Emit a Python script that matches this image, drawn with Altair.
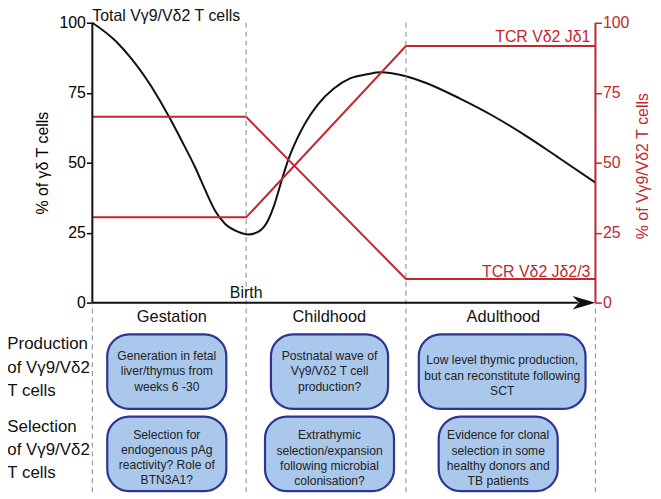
import altair as alt
import pandas as pd

FONT = "Liberation Sans"
RED = "#c1272d"
BOX_FILL = "#aac7ec"
BOX_STROKE = "#2d3590"

# ---------------- data ----------------
# relative time axis: 0 = start of gestation, 100 = late adulthood
curve_x = [0, 4.73, 7.89, 13.21, 15.19, 17.81, 20.45, 22.43, 24.40, 26.37,
           28.99, 30.97, 32.94, 34.91, 36.23, 37.22, 38.21, 39.19, 40.18,
           42.15, 44.77, 48.07, 51.34, 54.64, 57.2, 62.33, 66.47, 72.98,
           79.68, 86.19, 92.7, 100]
curve_y = [100, 93.3, 86.9, 72.9, 66.6, 57.7, 48.3, 40.3, 32.9, 28.2,
           25.3, 24.4, 25.3, 29.4, 35.3, 41.2, 47.1, 52.3, 56.6,
           63.7, 70.7, 76.6, 80.2, 81.6, 82.3, 80.9, 78.4, 73,
           66.7, 59.6, 51.8, 42.9]

stage_x = [0, 30.57, 62.33, 100]
jd1_y = [30.5, 30.5, 91.7, 91.7]
jd23_y = [66.4, 66.4, 8.5, 8.5]

ticks = [0, 25, 50, 75, 100]
stages = ["Gestation", "Childhood", "Adulthood"]
stage_label_x = [15.8, 47.1, 81.7]

row_labels = ["Production\nof Vγ9/Vδ2\nT cells", "Selection\nof Vγ9/Vδ2\nT cells"]

box_texts = [
    "Generation in fetal\nliver/thymus from\nweeks 6 -30",
    "Postnatal wave of\nVγ9/Vδ2 T cell\nproduction?",
    "Low level thymic production,\nbut can reconstitute following\nSCT",
    "Selection for\nendogenous pAg\nreactivity? Role of\nBTN3A1?",
    "Extrathymic\nselection/expansion\nfollowing microbial\ncolonisation?",
    "Evidence for clonal\nselection in some\nhealthy donors and\nTB patients",
]
# box layout (same units as the axes)
box_x1 = [2.96, 35.5, 64.89, 2.96, 34.32, 68.84]
box_x2 = [26.63, 58.78, 98.03, 26.63, 59.96, 92.5]
box_y1 = [-11.3, -11.3, -11.3, -40.7, -40.7, -40.7]
box_y2 = [-37.9, -37.9, -37.9, -67.3, -67.3, -67.3]
box_ty = [-19.1, -19.1, -20.6, -47.2, -47.4, -47.4]   # first text line

# ---------------- frames ----------------
curve_df = pd.DataFrame({"x": curve_x, "y": curve_y})
red_df = pd.DataFrame({
    "x": stage_x * 2,
    "y": jd1_y + jd23_y,
    "series": ["TCR Vδ2 Jδ1"] * 4 + ["TCR Vδ2 Jδ2/3"] * 4,
})
boxes_df = pd.DataFrame({
    "x": box_x1, "x2": box_x2, "y": box_y1, "y2": box_y2,
    "tx": [(a + b) / 2 for a, b in zip(box_x1, box_x2)],
    "ty": box_ty, "text": box_texts,
})
dash_df = pd.DataFrame({"x": stage_x, "y": [100] * 4, "y2": [-68] * 4})
stage_df = pd.DataFrame({"x": stage_label_x, "y": [-5.0] * 3, "text": stages})
row_df = pd.DataFrame({"x": [-16.9, -16.9], "y": [-14.9, -44.3], "text": row_labels})

XS = alt.Scale(domain=[0, 100], nice=False, zero=False)
YS = alt.Scale(domain=[-68, 100], nice=False, zero=False)


def X(f="x"):
    return alt.X(f"{f}:Q", scale=XS, axis=None)


def Y(f="y"):
    return alt.Y(f"{f}:Q", scale=YS, axis=None)


left_axis = alt.Axis(
    orient="left", values=ticks, domain=False, grid=False, tickColor="black",
    tickSize=6, tickWidth=1.5, labelFont=FONT, labelFontSize=16,
    labelColor="black", labelPadding=1, title="% of γδ T cells",
    titleFont=FONT, titleFontSize=16, titleFontWeight="normal",
    titleColor="black", titleAngle=270, titleX=-50, titleY=141,
    titleAlign="center", titleBaseline="middle",
)
right_axis = alt.Axis(
    orient="right", values=ticks, domain=False, grid=False, tickColor=RED,
    tickSize=6, tickWidth=1.5, labelFont=FONT, labelFontSize=16,
    labelColor=RED, labelPadding=1, title="% of Vγ9/Vδ2 T cells",
    titleFont=FONT, titleFontSize=16, titleFontWeight="normal",
    titleColor=RED, titleAngle=270, titleX=47, titleY=144,
    titleAlign="center", titleBaseline="middle",
)

dashes = alt.Chart(dash_df).mark_rule(
    color="#9a9a9a", strokeWidth=1.2, strokeDash=[5, 4]
).encode(x=X(), y=Y(), y2="y2:Q")

boxes = alt.Chart(boxes_df).mark_rect(
    fill=BOX_FILL, stroke=BOX_STROKE, strokeWidth=2.2, cornerRadius=22
).encode(x=X(), x2="x2:Q", y=Y(), y2="y2:Q")

box_text = alt.Chart(boxes_df).mark_text(
    font=FONT, fontSize=12.2, lineHeight=15.3, lineBreak="\n", color="#222",
    align="center", baseline="middle"
).encode(x=X("tx"), y=Y("ty"), text="text:N")

stage_text = alt.Chart(stage_df).mark_text(
    font=FONT, fontSize=16.5, color="#111", align="center", baseline="middle"
).encode(x=X(), y=Y(), text="text:N")

row_text = alt.Chart(row_df).mark_text(
    font=FONT, fontSize=17, lineHeight=23.5, lineBreak="\n", color="#111",
    align="left", baseline="middle"
).encode(x=X(), y=Y(), text="text:N")

curve = alt.Chart(curve_df).mark_line(
    color="#111", strokeWidth=2, interpolate="monotone"
).encode(x=X(), y=alt.Y("y:Q", scale=YS, axis=left_axis))

axis_lines_df = pd.DataFrame({"x": [0, 0], "x2": [0, 96.5], "y": [0, 0], "y2": [100, 0]})
axis_lines = alt.Chart(axis_lines_df).mark_rule(color="#111", strokeWidth=2).encode(
    x=X(), x2="x2:Q", y=Y(), y2="y2:Q")

arrow = alt.Chart(pd.DataFrame({"x": [97.73], "y": [0]})).mark_point(
    shape="M1,0 L-1,-0.6 L-0.45,0 L-1,0.6 Z", filled=True, color="#111",
    opacity=1, size=529, strokeWidth=0
).encode(x=X(), y=Y())

top_label = alt.Chart(pd.DataFrame({"x": [0], "y": [105.2], "text": ["Total Vγ9/Vδ2 T cells"]})).mark_text(
    font=FONT, fontSize=16, color="#111", align="left", baseline="top"
).encode(x=X(), y=Y(), text="text:N")

birth_label = alt.Chart(pd.DataFrame({"x": [30.57], "y": [3.5], "text": ["Birth"]})).mark_text(
    font=FONT, fontSize=16, color="#111", align="center", baseline="middle"
).encode(x=X(), y=Y(), text="text:N")

red_lines = alt.Chart(red_df).mark_line(color=RED, strokeWidth=2).encode(
    x=X(), y=alt.Y("y:Q", scale=YS, axis=right_axis), detail="series:N")

right_line = alt.Chart(pd.DataFrame({"x": [100], "y": [0], "y2": [100]})).mark_rule(
    color=RED, strokeWidth=2).encode(x=X(), y=Y(), y2="y2:Q")

red_labels = alt.Chart(pd.DataFrame({
    "x": [99.0, 99.0], "y": [95.0, 11.0], "text": ["TCR Vδ2 Jδ1", "TCR Vδ2 Jδ2/3"]
})).mark_text(font=FONT, fontSize=16, color=RED, align="right", baseline="middle").encode(
    x=X(), y=Y(), text="text:N")

chart = alt.layer(
    curve, red_lines, dashes, boxes, box_text, stage_text, row_text,
    axis_lines, arrow, top_label, birth_label, right_line, red_labels,
).resolve_scale(y="independent").properties(
    width=507, height=474,
    autosize=alt.AutoSizeParams(type="none"),
    padding={"left": 85, "top": 13, "right": 58, "bottom": 0},
).configure_view(stroke=None)

chart.save("out.html", embed_options={"renderer": "svg", "actions": False})
